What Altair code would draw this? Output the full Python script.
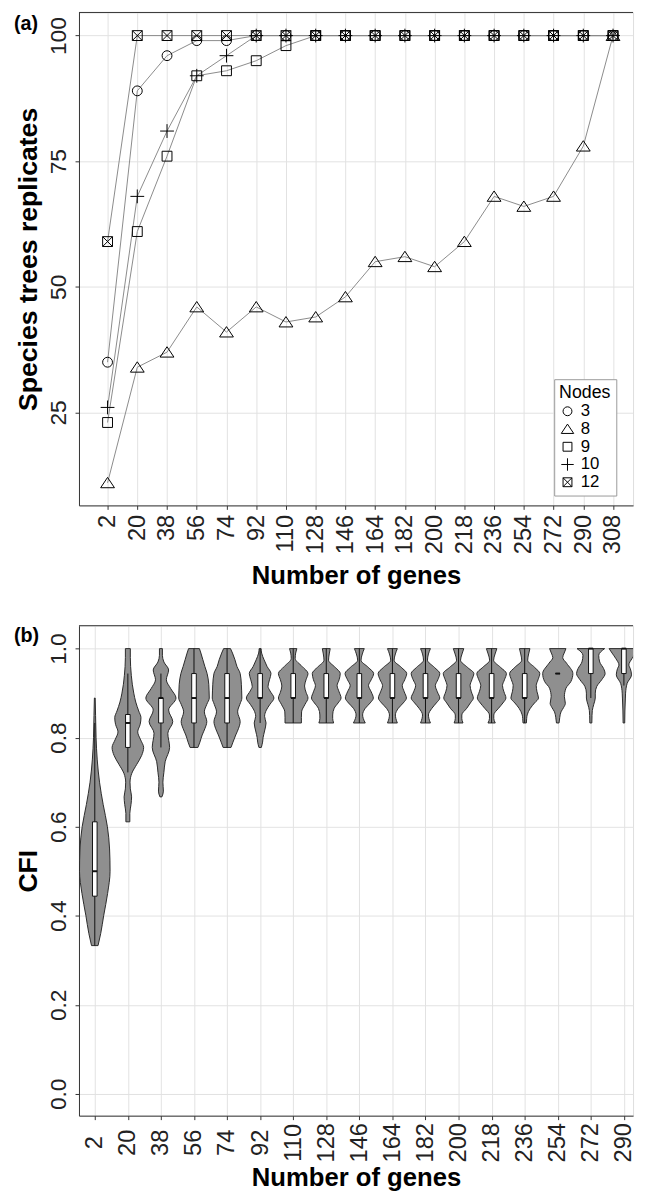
import altair as alt
import pandas as pd

FONT = "Liberation Sans"

# ---------------- Panel (a) data ----------------
genes_a = [2, 20, 38, 56, 74, 92, 110, 128, 146, 164, 182, 200, 218, 236, 254, 272, 290, 308]
node_names = ["3", "8", "9", "10", "12"]
rep_3 = [35, 89, 96, 99, 99, 100, 100, 100, 100, 100, 100, 100, 100, 100, 100, 100, 100, 100]
rep_8 = [11, 34, 37, 46, 41, 46, 43, 44, 48, 55, 56, 54, 59, 68, 66, 68, 78, 100]
rep_9 = [23, 61, 76, 92, 93, 95, 98, 100, 100, 100, 100, 100, 100, 100, 100, 100, 100, 100]
rep_10 = [26, 68, 81, 92, 96, 100, 100, 100, 100, 100, 100, 100, 100, 100, 100, 100, 100, 100]
rep_12 = [59, 100, 100, 100, 100, 100, 100, 100, 100, 100, 100, 100, 100, 100, 100, 100, 100, 100]

# ---------------- Panel (b) data ----------------
genes_b = [2, 20, 38, 56, 74, 92, 110, 128, 146, 164, 182, 200, 218, 236, 254, 272, 290]
vase_levels = [0.833, 0.843, 0.851, 0.866, 0.878, 0.889, 0.903, 0.917, 0.93, 0.944, 0.958, 0.974, 0.988, 1.0]
violin_levels = {
    2: [0.333, 0.36, 0.40, 0.45, 0.50, 0.55, 0.60, 0.65, 0.70, 0.75, 0.80, 0.85, 0.889],
    20: [0.611, 0.63, 0.65, 0.667, 0.685, 0.70, 0.72, 0.74, 0.76, 0.778, 0.795, 0.813, 0.83, 0.845, 0.86, 0.88, 0.90, 0.92, 0.94, 0.96, 0.98, 1.0],
    38: [0.667, 0.68, 0.70, 0.722, 0.746, 0.778, 0.81, 0.836, 0.862, 0.889, 0.91, 0.93, 0.952, 0.97, 0.985, 1.0],
    56: [0.778, 0.79, 0.806, 0.82, 0.836, 0.858, 0.875, 0.889, 0.905, 0.92, 0.944, 0.96, 0.975, 0.99, 1.0],
    74: [0.778, 0.79, 0.806, 0.82, 0.836, 0.858, 0.875, 0.889, 0.905, 0.92, 0.944, 0.96, 0.975, 0.99, 1.0],
    92: [0.778, 0.79, 0.80, 0.815, 0.833, 0.848, 0.862, 0.875, 0.889, 0.905, 0.915, 0.93, 0.944, 0.96, 0.975, 0.99, 1.0],
    110: [0.833, 0.845, 0.858, 0.875, 0.889, 0.902, 0.916, 0.93, 0.944, 0.96, 0.978, 0.99, 1.0],
    128: vase_levels, 146: vase_levels, 164: vase_levels, 182: vase_levels,
    200: vase_levels, 218: vase_levels, 236: vase_levels,
    254: [0.833, 0.845, 0.858, 0.868, 0.877, 0.892, 0.911, 0.926, 0.944, 0.967, 0.98, 0.99, 1.0],
    272: [0.833, 0.85, 0.861, 0.875, 0.889, 0.9, 0.915, 0.93, 0.944, 0.955, 0.97, 0.985, 1.0],
    290: [0.833, 0.86, 0.889, 0.9, 0.922, 0.941, 0.955, 0.963, 0.978, 0.99, 1.0],
}
violin_density = {
    2: [3.3, 6, 9, 13, 15.5, 15, 12.8, 8.5, 4.8, 2.5, 1.3, 0.8, 0.4],
    20: [2, 2, 3.2, 3.8, 2.5, 2.2, 4, 9, 14, 16, 13, 10, 12.5, 13.3, 11, 8, 6, 4.5, 3.5, 2.8, 2.5, 2.5],
    38: [1.0, 2.5, 2, 3, 4.3, 8.8, 7, 12, 7.8, 15.3, 10, 5.5, 7.8, 3, 1.5, 1.5],
    56: [4, 6, 8.3, 11, 13, 10.5, 13, 15.5, 15.3, 15, 13.3, 11, 9, 7, 5.5],
    74: [4, 6, 8.8, 11.5, 13.3, 10.7, 13, 15, 14.8, 14.5, 13.3, 10, 8, 5.5, 3.5],
    92: [1.2, 2.5, 3, 4.5, 6, 4.5, 6.3, 10, 14, 10, 8, 9.5, 11, 7, 4, 1.5, 1],
    110: [8.3, 8.3, 8.5, 12, 15, 13, 11.5, 13, 15, 9, 2, 2.5, 3.7],
    128: [7.5, 6.5, 6.5, 8, 12, 15, 13, 11, 13, 14.2, 9, 2.3, 3, 4],
    146: [6, 4, 3.3, 6, 11, 14.2, 12, 9.3, 12, 14.5, 9, 1.7, 3, 5],
    164: [5, 3.5, 3, 6, 11, 14.2, 12, 10, 12.5, 14.5, 9, 1.7, 3, 5],
    182: [5, 3.5, 3, 6.5, 11, 14.5, 12, 10, 12.5, 14.5, 9, 2, 3, 5],
    200: [4.5, 3.3, 3.3, 8.3, 12, 15, 13, 11.7, 13.5, 15.5, 9, 2, 3.5, 5.3],
    218: [3.7, 2.2, 2.2, 7, 11.5, 14.5, 12.5, 11, 13, 15, 9, 2, 3.5, 5.3],
    236: [1.7, 2, 2.5, 5.7, 10, 14, 12.5, 11.7, 13.5, 15.3, 10, 3, 4, 5.3],
    254: [1.3, 2, 3.3, 6, 7.7, 6.7, 8.3, 13.3, 15.3, 9, 5, 6.5, 8.3],
    272: [1, 1.2, 1.5, 3, 4.5, 4.5, 6, 11, 14.5, 13, 9, 8, 14],
    290: [0.8, 1, 1.5, 1.7, 3.3, 7.7, 6.5, 5, 8.3, 12, 15],
}
box_q1 = [0.444, 0.778, 0.833, 0.833, 0.833, 0.889, 0.889, 0.889, 0.889, 0.889, 0.889, 0.889, 0.889, 0.889, 0.944, 0.944, 0.944]
box_med = [0.5, 0.833, 0.889, 0.889, 0.889, 0.889, 0.889, 0.889, 0.889, 0.889, 0.889, 0.889, 0.889, 0.889, 0.944, 1.0, 1.0]
box_q3 = [0.611, 0.852, 0.889, 0.944, 0.944, 0.944, 0.944, 0.944, 0.944, 0.944, 0.944, 0.944, 0.944, 0.944, 0.944, 1.0, 1.0]
whisk_lo = [0.333, 0.722, 0.778, 0.778, 0.778, 0.833, 0.833, 0.833, 0.833, 0.833, 0.833, 0.833, 0.833, 0.833, 0.944, 0.889, 0.917]
whisk_hi = [0.833, 0.944, 0.944, 1.0, 1.0, 1.0, 1.0, 1.0, 1.0, 1.0, 1.0, 1.0, 1.0, 1.0, 0.944, 1.0, 1.0]

# ---------------- build tables ----------------
series = {"3": rep_3, "8": rep_8, "9": rep_9, "10": rep_10, "12": rep_12}
df_a = pd.DataFrame(
    [{"genes": g, "rep": v, "node": n} for n in node_names for g, v in zip(genes_a, series[n])]
)
df_v = pd.DataFrame(
    [{"genes": g, "cfi": c, "dens": d}
     for g in genes_b for c, d in zip(violin_levels[g], violin_density[g])]
).sort_values(["genes", "cfi"])
df_box = pd.DataFrame({"genes": genes_b, "q1": box_q1, "med": box_med, "q3": box_q3,
                       "wlo": whisk_lo, "whi": whisk_hi})

W = 562
HA = 500
HB = 497
XA = [-15.3, -15.3 + W / 1.6755]
XB = [-6.6, -6.6 + W / 1.8635]
K = 0.5366   # gene units per density unit (px)
BOXW = 1.25

shape_range = [
    "circle",
    "M0,-1.1L-1.4,1L1.4,1Z",
    "square",
    "M-1.4,0L1.4,0M0,-1.4L0,1.4",
    "M-1,-1L1,-1L1,1L-1,1ZM-1,-1L1,1M1,-1L-1,1",
]

axis_common = dict(
    labelFont=FONT, titleFont=FONT, labelColor="#222", titleColor="black",
    domainColor="#333", tickColor="#333", tickSize=4, gridColor="#e2e2e2",
    titleFontWeight="bold", labelOverlap=False,
)

axis_xa = alt.Axis(values=genes_a, title="Number of genes", labelAngle=270,
                   labelFontSize=24, labelAlign="right", labelBaseline="middle",
                   labelPadding=5, titlePadding=9, titleFontSize=26, **axis_common)
axis_ya = alt.Axis(values=[25, 50, 75, 100], title="Species trees replicates",
                   labelAngle=270, labelFontSize=23, labelAlign="center",
                   labelBaseline="alphabetic", labelPadding=10, titlePadding=5,
                   titleFontSize=27, **axis_common)
xa = alt.X("genes:Q", scale=alt.Scale(domain=XA, nice=False, zero=False), axis=axis_xa)
ya = alt.Y("rep:Q", scale=alt.Scale(domain=[6.5, 104.6], nice=False, zero=False), axis=axis_ya)

lines = alt.Chart(df_a).mark_line(color="#8a8a8a", strokeWidth=1).encode(
    x=xa, y=ya, detail="node:N")
points = alt.Chart(df_a).mark_point(filled=False, color="black", strokeWidth=1, size=100, opacity=1).encode(
    x=xa, y=ya,
    shape=alt.Shape("node:N", sort=node_names,
                    scale=alt.Scale(domain=node_names, range=shape_range),
                    legend=alt.Legend(title="Nodes", orient="none", legendX=482, legendY=372,
                                      direction="vertical",
                                      titleFont=FONT, labelFont=FONT, titleFontSize=18,
                                      labelFontSize=17, titleFontWeight="normal",
                                      titleColor="black", labelColor="black",
                                      symbolSize=81, symbolStrokeWidth=1,
                                      symbolStrokeColor="black", symbolFillColor="transparent",
                                      strokeColor="#999", padding=5, rowPadding=0,
                                      labelOffset=5, titlePadding=1, fillColor="white")))

dummy = pd.DataFrame({"t": ["(a)"]})
top_a = alt.Chart(dummy).mark_rule(color="#333", strokeWidth=1).encode(
    x=alt.value(0), x2=alt.value(W), y=alt.value(0))
lab_a = alt.Chart(dummy).mark_text(align="left", baseline="alphabetic", font=FONT,
                                   fontSize=20, fontWeight="bold", color="black").encode(
    x=alt.value(-66), y=alt.value(18), text="t:N")

panel_a = alt.layer(lines, points, top_a, lab_a).properties(width=W, height=HA)

axis_xb = alt.Axis(values=genes_b, title="Number of genes", labelAngle=270,
                   labelFontSize=24, labelAlign="center", labelBaseline="middle",
                   labelPadding=23, titlePadding=3, titleFontSize=26, **axis_common)
axis_yb = alt.Axis(values=[0, 0.2, 0.4, 0.6, 0.8, 1.0], format=".1f", title="CFI",
                   labelAngle=270, labelFontSize=23, labelAlign="center",
                   labelBaseline="alphabetic", labelPadding=10, titlePadding=5,
                   titleFontSize=27, **axis_common)
xb = alt.X("lo:Q", scale=alt.Scale(domain=XB, nice=False, zero=False), axis=axis_xb)
yb = alt.Y("cfi:Q", scale=alt.Scale(domain=[-0.049, 1.0515], nice=False, zero=False), axis=axis_yb)

violins = alt.Chart(df_v).transform_calculate(
    lo=f"datum.genes - datum.dens * {K}", hi=f"datum.genes + datum.dens * {K}"
).mark_area(orient="horizontal", interpolate="monotone", fill="#8f8f8f",
            stroke="#2a2a2a", strokeWidth=1, opacity=1, clip=True).encode(
    y=yb, x=xb, x2="hi:Q", detail="genes:N")
whisk = alt.Chart(df_box).transform_calculate(lo="datum.genes").mark_rule(
    color="#111", strokeWidth=1).encode(x=xb, y=alt.Y("wlo:Q", axis=axis_yb), y2="whi:Q")
boxes = alt.Chart(df_box).transform_calculate(
    lo=f"datum.genes - {BOXW}", hi=f"datum.genes + {BOXW}"
).mark_rect(fill="white", stroke="#111", strokeWidth=1).encode(
    x=xb, x2="hi:Q", y=alt.Y("q1:Q", axis=axis_yb), y2="q3:Q")
meds = alt.Chart(df_box).transform_calculate(
    lo=f"datum.genes - {BOXW}", hi=f"datum.genes + {BOXW}"
).mark_rule(color="#111", strokeWidth=2).encode(x=xb, x2="hi:Q", y=alt.Y("med:Q", axis=axis_yb))

dummy_b = pd.DataFrame({"t": ["(b)"]})
top_b = alt.Chart(dummy_b).mark_rule(color="#333", strokeWidth=1).encode(
    x=alt.value(0), x2=alt.value(W), y=alt.value(0))
lab_b = alt.Chart(dummy_b).mark_text(align="left", baseline="alphabetic", font=FONT,
                                     fontSize=20, fontWeight="bold", color="black").encode(
    x=alt.value(-66), y=alt.value(17), text="t:N")

panel_b = alt.layer(violins, whisk, boxes, meds, top_b, lab_b).properties(width=W, height=HB)

chart = alt.vconcat(panel_a, panel_b, spacing=122, bounds="flush").resolve_scale(
    x="independent", y="independent"
).properties(
    padding={"left": 5, "top": -5, "right": 0, "bottom": 0}
).configure_view(stroke=None).configure_axis(labelOverlap=False).configure(background="white")

chart.save("out.html", embed_options={"renderer": "svg", "actions": False})
